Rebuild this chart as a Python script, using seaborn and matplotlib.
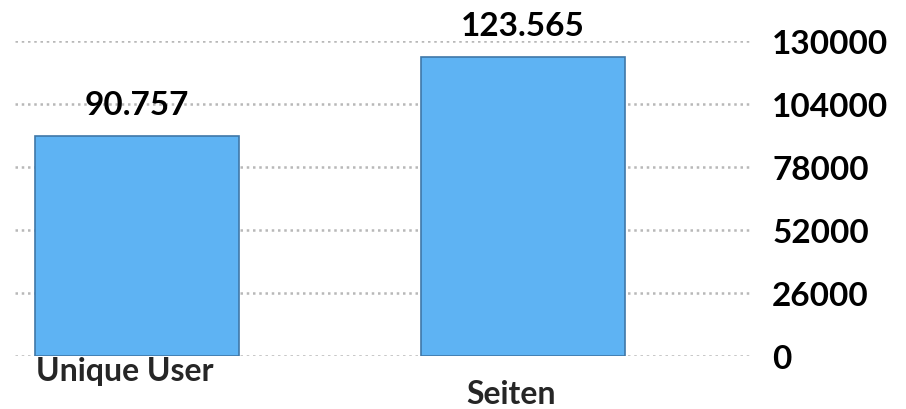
import matplotlib
matplotlib.use("Agg")
import matplotlib.pyplot as plt
import matplotlib.transforms as mtransforms
import seaborn as sns
import pandas as pd

categories = ["Unique User", "Seiten"]
values = [90757, 123565]
value_labels = ["90.757", "123.565"]
y_ticks = [0, 26000, 52000, 78000, 104000, 130000]

sns.set_theme(style="white")
plt.rcParams["font.family"] = ["Lato", "DejaVu Sans"]
plt.rcParams["font.weight"] = "bold"

df = pd.DataFrame({"cat": categories, "val": values})

fig = plt.figure(figsize=(9.06, 4.10), dpi=100)
ax = fig.add_axes([15 / 906, 53 / 410, 735 / 906, 315 / 410])

sns.barplot(data=df, x="cat", y="val", ax=ax, color="#5EB3F3", width=0.53,
            edgecolor="#3F78A8", linewidth=1.2, saturation=1)

ax.set_xlim(-0.316, 1.588)
ax.set_ylim(0, 130000)
ax.set_yticks(y_ticks)
ax.set_yticklabels([str(v) for v in y_ticks], fontsize=24, color="black",
                   fontweight="bold")
ax.yaxis.tick_right()
ax.tick_params(axis="y", length=0, pad=16)
ax.tick_params(axis="x", length=0, pad=0, labelsize=23)
for lbl in ax.get_yticklabels():
    lbl.set_horizontalalignment("left")
for lbl in ax.get_xticklabels():
    lbl.set_fontweight("bold")

ax.set_axisbelow(True)
ax.yaxis.grid(True, linestyle=(0, (1, 1.5)), color="#B8B8B8", linewidth=1.8)
ax.xaxis.grid(False)
for s in ax.spines.values():
    s.set_visible(False)

ax.set_xlabel("")
ax.set_ylabel("")

labels = ax.get_xticklabels()
labels[1].set_transform(labels[1].get_transform() +
                        mtransforms.ScaledTranslation(-12 / 100, -23 / 100, fig.dpi_scale_trans))
labels[0].set_transform(labels[0].get_transform() +
                        mtransforms.ScaledTranslation(-12 / 100, 0, fig.dpi_scale_trans))

texts = ax.bar_label(ax.containers[0], labels=value_labels, fontsize=24, padding=12,
                     color="black", fontweight="bold")
texts[0].set_transform(texts[0].get_transform() +
                       mtransforms.ScaledTranslation(-18 / 100, 0, fig.dpi_scale_trans))
texts[1].set_transform(texts[1].get_transform() +
                       mtransforms.ScaledTranslation(-5 / 100, 0, fig.dpi_scale_trans))

fig.savefig("out.png", dpi=100)
